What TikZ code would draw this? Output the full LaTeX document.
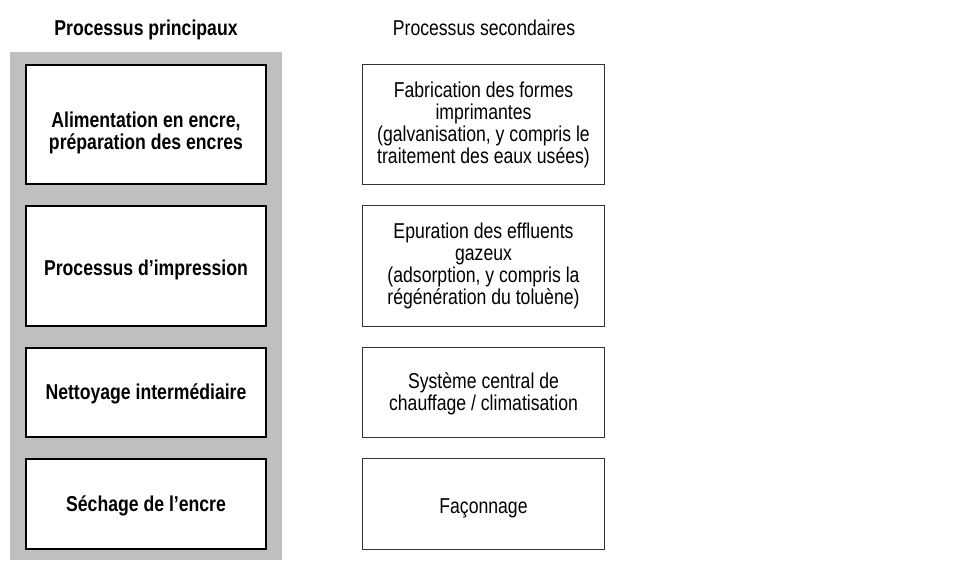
\documentclass[tikz,border=0pt]{standalone}
\usepackage{fontspec}
\setmainfont{Liberation Sans}[FakeStretch=0.82]
\begin{document}
\begin{tikzpicture}[x=1pt,y=-1pt,
  mainbox/.style={rectangle, draw=black, line width=2pt, fill=white, minimum width=240pt},
  subbox/.style={rectangle, draw=black!80, line width=1pt, fill=white, minimum width=242pt},
  maintext/.style={align=center, font=\fontsize{21.5}{22}\selectfont\bfseries},
  subtext/.style={align=center, font=\fontsize{21.5}{22}\selectfont},
  header/.style={anchor=base, font=\fontsize{21.5}{20}\selectfont}]
\useasboundingbox (0,0) rectangle (979,560);
\fill [gray!50] (10,52) rectangle (282,560);
\node [header, font=\fontsize{21.5}{20}\selectfont\bfseries] (hmain) at (146,35) {Processus principaux};
\node [header] (hsub) at (484,35) {Processus secondaires};
% main processes
\node [mainbox, minimum height=119pt] (ink) at (146,124.5) {};
\node [mainbox, minimum height=120pt] (print) at (146,266) {};
\node [mainbox, minimum height=89pt] (clean) at (146,392.5) {};
\node [mainbox, minimum height=90pt] (dry) at (146,504) {};
\node [maintext] (inktext) at ([yshift=-8pt]ink.center) {Alimentation en encre,\\pr\'eparation des encres};
\node [maintext] (printtext) at ([yshift=-4pt]print.center) {Processus d'impression};
\node [maintext] (cleantext) at ([yshift=-1pt]clean.center) {Nettoyage interm\'ediaire};
\node [maintext] (drytext) at ([yshift=-2pt]dry.center) {S\'echage de l'encre};
% secondary processes
\node [subbox, minimum height=120pt] (forms) at (483.5,124.5) {};
\node [subbox, minimum height=121pt] (gas) at (483.5,266) {};
\node [subbox, minimum height=90pt] (heat) at (483.5,392.5) {};
\node [subbox, minimum height=91pt] (finish) at (483.5,504) {};
\node [subtext] (formstext) at (forms.center) {Fabrication des formes\\imprimantes\\(galvanisation, y compris le\\traitement des eaux us\'ees)};
\node [subtext] (gastext) at (gas.center) {Epuration des effluents\\gazeux\\(adsorption, y compris la\\r\'eg\'en\'eration du tolu\`ene)};
\node [subtext] (heattext) at ([yshift=-1pt]heat.center) {Syst\`eme central de\\chauffage / climatisation};
\node [subtext] (finishtext) at ([yshift=-4pt]finish.center) {Fa\c{c}onnage};
\end{tikzpicture}
\end{document}
